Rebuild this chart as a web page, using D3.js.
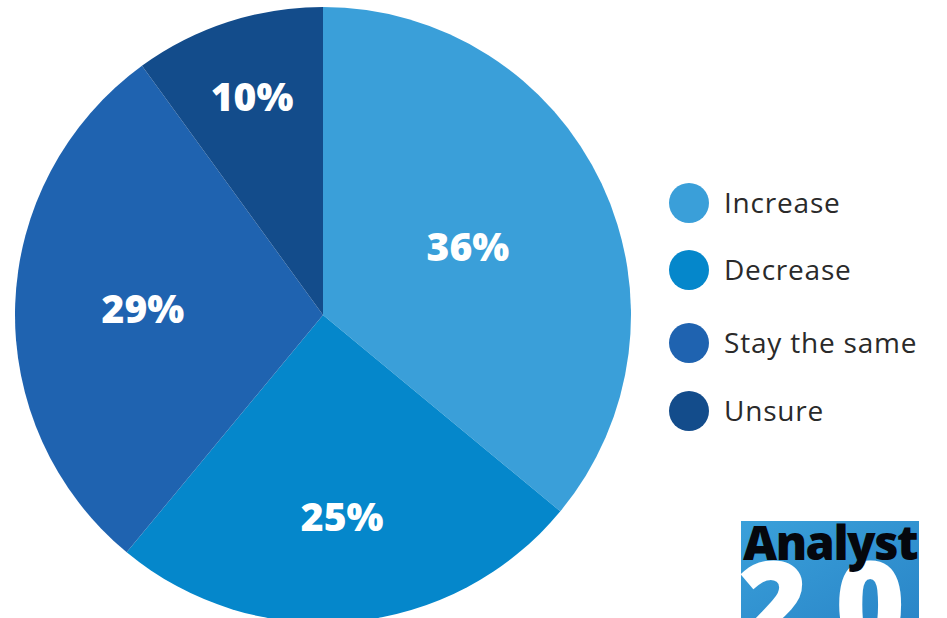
<!DOCTYPE html>
<html>
<head>
<meta charset="utf-8">
<script src="https://cdn.jsdelivr.net/npm/d3@7"></script>
<style>
  body { margin: 0; background: #fff; }
  svg { display: block; }
</style>
</head>
<body>
<div class="PieChart"></div>
<script>
// survey answers, clockwise from 12 o'clock
var categories = ["Increase", "Decrease", "Stay the same", "Unsure"];
var values = [36, 25, 29, 10];
var colors = ["#3a9fd9", "#0587cb", "#1f63b0", "#134c8b"];

var width = 947, height = 618;
var cx = 323, cy = 315, radius = 308;
// how far out each % label sits (fraction of radius)
var labelPos = [0.52, 0.66, 0.585, 0.745];

var svg = d3.select(".PieChart").append("svg")
    .attr("width", width)
    .attr("height", height);

var data = categories.map(function(c, i){ return {name: c, value: values[i], i: i}; });

var pie = d3.pie()
    .sort(null)
    .value(function(d){ return d.value; });

var arc = d3.arc()
    .innerRadius(0)
    .outerRadius(radius);

var g = svg.append("g")
    .attr("transform", "translate(" + cx + "," + cy + ")");

var arcs = pie(data);

g.selectAll(".slice")
    .data(arcs)
  .enter().append("path")
    .attr("class", "slice")
    .attr("d", arc)
    .attr("fill", function(d){ return colors[d.data.i]; });

g.selectAll(".pct")
    .data(arcs)
  .enter().append("text")
    .attr("class", "pct")
    .attr("transform", function(d){
      var r = radius * labelPos[d.data.i];
      var la = d3.arc().innerRadius(r).outerRadius(r);
      return "translate(" + la.centroid(d) + ")";
    })
    .attr("text-anchor", "middle")
    .attr("dy", "0.36em")
    .style("font-family", "'Open Sans', sans-serif")
    .style("font-weight", 800)
    .style("font-size", "39px")
    .style("fill", "#fff")
    .text(function(d){ return d.data.value + "%"; });

// legend
var legend = svg.append("g")
    .attr("transform", "translate(689,0)");

var legendYs = [203, 270, 343, 411];

var item = legend.selectAll(".item")
    .data(data)
  .enter().append("g")
    .attr("class", "item")
    .attr("transform", function(d){ return "translate(0," + legendYs[d.i] + ")"; });

item.append("circle")
    .attr("r", 20)
    .attr("fill", function(d){ return colors[d.i]; });

item.append("text")
    .attr("x", 35)
    .attr("dy", "0.35em")
    .style("font-family", "'Open Sans', sans-serif")
    .style("font-weight", 500)
    .style("font-size", "28px")
    .style("letter-spacing", "0.8px")
    .style("fill", "#2a2a2a")
    .text(function(d){ return d.name; });

// Analyst 2.0 badge
var defs = svg.append("defs");
var grad = defs.append("linearGradient").attr("id", "badgeGrad")
    .attr("x1", "0").attr("x2", "1").attr("y1", "0").attr("y2", "1");
grad.append("stop").attr("offset", "0%").attr("stop-color", "#3aa0da");
grad.append("stop").attr("offset", "100%").attr("stop-color", "#2a86c8");

defs.append("clipPath").attr("id", "badgeClip")
  .append("rect")
    .attr("x", 741).attr("y", 521)
    .attr("width", 178).attr("height", 97);

var badge = svg.append("g").attr("clip-path", "url(#badgeClip)");

badge.append("rect")
    .attr("x", 741).attr("y", 521)
    .attr("width", 178).attr("height", 97)
    .attr("fill", "url(#badgeGrad)");

badge.append("text")
    .attr("x", 738).attr("y", 648)
    .style("font-family", "'Open Sans', sans-serif")
    .style("font-weight", 800)
    .style("font-size", "120px")
    .style("letter-spacing", "-4px")
    .style("fill", "#fff")
    .text("2.0");

badge.append("text")
    .attr("x", 743).attr("y", 560)
    .style("font-family", "'Open Sans', sans-serif")
    .style("font-weight", 800)
    .style("font-size", "47px")
    .style("letter-spacing", "-1.5px")
    .style("fill", "#05070d")
    .text("Analyst");
</script>
</body>
</html>
